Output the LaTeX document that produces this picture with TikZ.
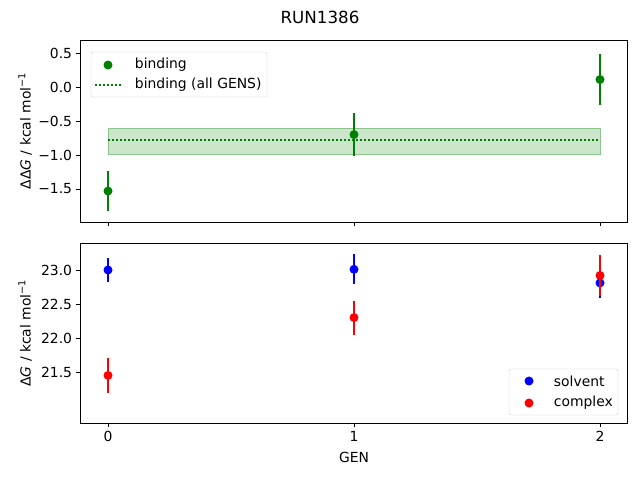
\documentclass[tikz,border=0pt]{standalone}
\usepackage{fontspec}
\setmainfont{DejaVu Sans}
\usetikzlibrary{positioning}
\definecolor{mplgreen}{RGB}{0,128,0}
\definecolor{mplblue}{RGB}{0,0,255}
\definecolor{mplred}{RGB}{255,0,0}
\tikzset{
  lbl/.style={inner sep=0.75pt,font=\fontsize{13.9}{16}\selectfont},
  errbar/.style={line width=1.5pt},
  dot/.style={circle,inner sep=0pt,minimum size=9pt},
  frame/.style={line width=0.8pt},
  tick/.style={line width=0.8pt}
}
\begin{document}
\begin{tikzpicture}[x=1pt,y=-1pt]
\useasboundingbox (0,0) rectangle (640,480);
% Title
\node (title) [lbl,font=\fontsize{16.7}{19}\selectfont] at (320,17) {RUN1386};

% top axes
\fill [mplgreen,opacity=0.2] (108,128) rectangle (600,154);
\draw [mplgreen!45,line width=0.8pt] (108,128) rectangle (600,154);
\draw [mplgreen,line width=1.5pt,dash pattern=on 1.5pt off 2.5pt] (108,140) -- (600,140);
\foreach \g/\v/\e in {0/-1.53/0.30,1/-0.70/0.32,2/0.11/0.38}{
  \draw [errbar,mplgreen] ({108+246*\g},{87-68*(\v+\e)}) -- ({108+246*\g},{87-68*(\v-\e)});
  \node [dot,fill=mplgreen] at ({108+246*\g},{87-68*\v}) {};
}
\draw [frame] (80,40) rectangle (627,222);
\foreach \v/\t in {0.5/0.5,0/0.0,-0.5/−0.5,-1/−1.0,-1.5/−1.5}{
  \draw [tick] (80,{87-68*\v}) -- (76,{87-68*\v});
  \node [lbl,anchor=east] at (73,{87-68*\v}) {\t};
}
\foreach \g in {0,1,2}
  \draw [tick] ({108+246*\g},222) -- ({108+246*\g},226);
\node (ylabtop) [lbl,rotate=90] at (25,131) {ΔΔ\textit{G} / kcal mol\textsuperscript{−1}};
% top legend
\draw [black!20,fill=white,rounded corners=2pt] (91,52) rectangle (267,97);
\node (legbind) [dot,fill=mplgreen] at (108,65) {};
\node [lbl,anchor=west] at (134,65) {binding};
\draw [mplgreen,line width=1.5pt,dash pattern=on 1.5pt off 2.5pt] (95,85) -- (122,85);
\node [lbl,anchor=west] at (134,85) {binding (all GENS)};

% bottom axes
\foreach \g/\v/\e in {0/23.00/0.17,1/23.01/0.22,2/22.81/0.22}{
  \draw [errbar,mplblue] ({108+246*\g},{270-68*(\v-23+\e)}) -- ({108+246*\g},{270-68*(\v-23-\e)});
  \node [dot,fill=mplblue] at ({108+246*\g},{270-68*(\v-23)}) {};
}
\foreach \g/\v/\e in {0/21.45/0.26,1/22.30/0.25,2/22.92/0.30}{
  \draw [errbar,mplred] ({108+246*\g},{270-68*(\v-23+\e)}) -- ({108+246*\g},{270-68*(\v-23-\e)});
  \node [dot,fill=mplred] at ({108+246*\g},{270-68*(\v-23)}) {};
}
\draw [frame] (80,243) rectangle (627,423);
\foreach \v in {23.0,22.5,22.0,21.5}{
  \draw [tick] (80,{270-68*(\v-23)}) -- (76,{270-68*(\v-23)});
  \node [lbl,anchor=east] at (73,{270-68*(\v-23)}) {\v};
}
\foreach \g in {0,1,2}{
  \draw [tick] ({108+246*\g},423) -- ({108+246*\g},427);
  \node [lbl,anchor=north] at ({108+246*\g},430) {\g};
}
\node (xlab) [lbl] at (354,457) {GEN};
\node (ylabbot) [lbl,rotate=90] at (25,333) {Δ\textit{G} / kcal mol\textsuperscript{−1}};
% bottom legend
\draw [black!20,fill=white,rounded corners=2pt] (509,369) rectangle (618,415);
\node (legsolv) [dot,fill=mplblue] at (529,381) {};
\node [lbl,anchor=west] at (553,381) {solvent};
\node (legcplx) [dot,fill=mplred] at (529,403) {};
\node [lbl,anchor=west] at (553,403) {complex};
\end{tikzpicture}
\end{document}
